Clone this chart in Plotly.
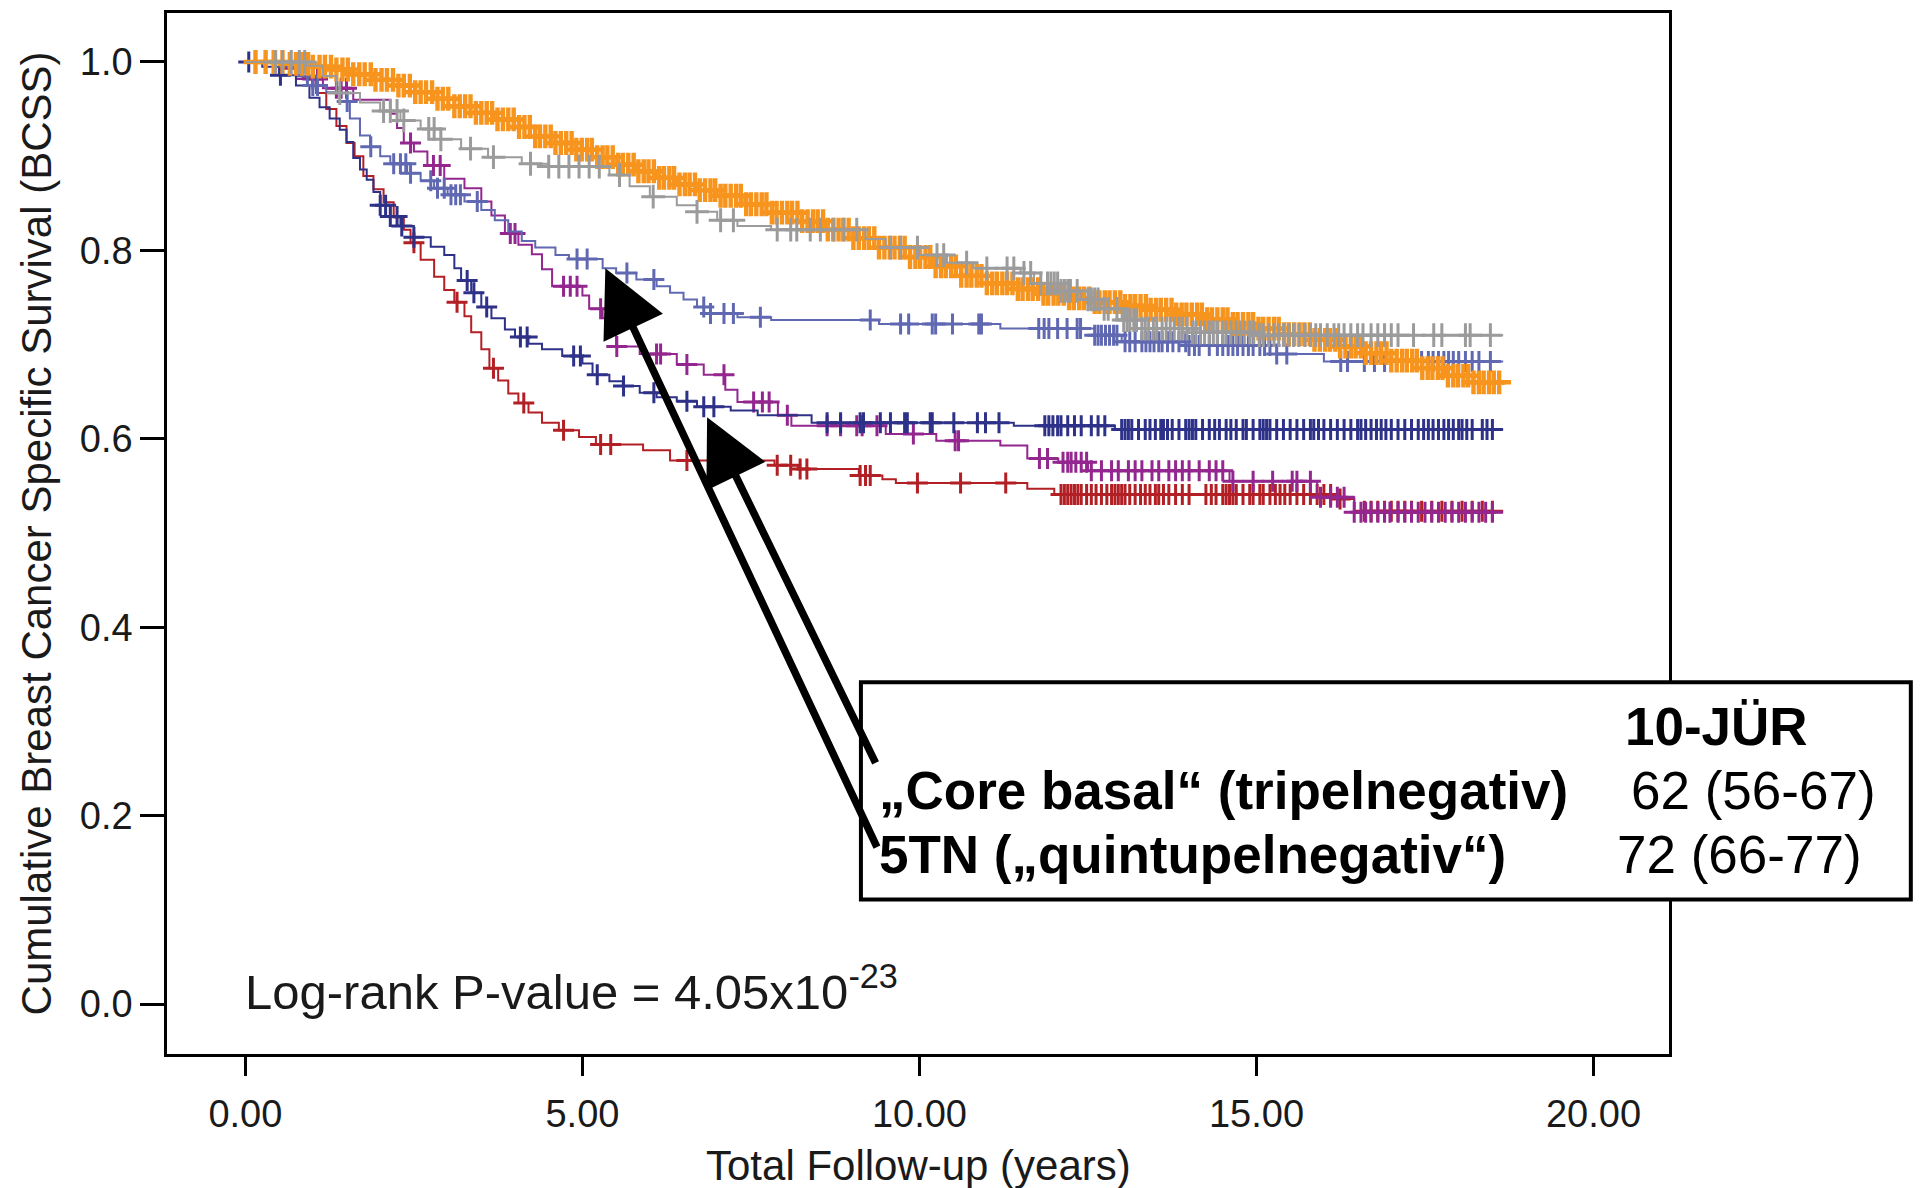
import numpy as np
import plotly.graph_objects as go

# ---------------- data ----------------
x_ticks = [0, 5, 10, 15, 20]
y_ticks = [0.0, 0.2, 0.4, 0.6, 0.8, 1.0]

# Kaplan-Meier step points (time in years, cumulative survival after the step)
orange_t = [0, 0.6, 1.0, 1.3, 1.6, 1.9, 2.2, 2.5, 2.8, 3.1, 3.4, 3.7, 4.0, 4.3, 4.6, 4.9, 5.2, 5.5,
            5.8, 6.1, 6.4, 6.7, 7.0, 7.4, 7.8, 8.2, 8.6, 9.0, 9.4, 9.8, 10.2, 10.6, 11.0, 11.4, 11.8,
            12.2, 12.6, 13.0, 13.4, 13.8, 14.2, 14.6, 15.0, 15.4, 15.8, 16.2, 16.6, 17.0, 17.4, 17.8,
            18.2, 18.66]
orange_s = [1.0, 0.998, 0.995, 0.992, 0.987, 0.981, 0.975, 0.968, 0.961, 0.953, 0.946, 0.939, 0.931,
            0.921, 0.914, 0.907, 0.899, 0.891, 0.884, 0.877, 0.870, 0.864, 0.858, 0.849, 0.840, 0.831,
            0.822, 0.813, 0.803, 0.793, 0.783, 0.773, 0.765, 0.759, 0.754, 0.749, 0.745, 0.741, 0.737,
            0.732, 0.727, 0.722, 0.717, 0.711, 0.705, 0.698, 0.691, 0.683, 0.675, 0.667, 0.660, 0.657]
orange_c = [0.15, 0.3, 0.42, 0.55, 0.66, 0.75, 0.84, 0.93, 1.0, 1.1, 1.18, 1.27, 1.35, 1.44, 1.52, 1.6,
            1.69, 1.77, 1.86, 1.93, 2.02, 2.1, 2.19, 2.27, 2.35, 2.44, 2.52, 2.6, 2.68, 2.77, 2.85, 2.93,
            3.01, 3.1, 3.18, 3.26, 3.34, 3.42, 3.5, 3.58, 3.66, 3.74, 3.82, 3.9, 3.98, 4.06, 4.14, 4.22,
            4.3, 4.37, 4.45, 4.53, 4.6, 4.68, 4.76, 4.84, 4.91, 4.99, 5.07, 5.14, 5.22, 5.3, 5.37, 5.45,
            5.53, 5.6, 5.68, 5.76, 5.83, 5.91, 5.98, 6.06, 6.14, 6.21, 6.29, 6.36, 6.44, 6.52, 6.59,
            6.67, 6.74, 6.82, 6.9, 6.97, 7.05, 7.12, 7.2, 7.28, 7.35, 7.43, 7.5, 7.58, 7.66, 7.73, 7.81,
            7.88, 7.96, 8.04, 8.11, 8.19, 8.26, 8.34, 8.42, 8.49, 8.57, 8.64, 8.72, 8.8, 8.87, 8.95,
            9.02, 9.1, 9.18, 9.25, 9.33, 9.4, 9.48, 9.56, 9.63, 9.71, 9.78, 9.86, 9.94, 10.01, 10.09,
            10.16, 10.24, 10.32, 10.39, 10.47, 10.54, 10.62, 10.7, 10.77, 10.85, 10.92, 11.0, 11.08,
            11.15, 11.23, 11.3, 11.38, 11.46, 11.53, 11.61, 11.68, 11.76, 11.84, 11.91, 11.99, 12.06,
            12.14, 12.22, 12.29, 12.37, 12.44, 12.52, 12.6, 12.67, 12.75, 12.82, 12.9, 12.98, 13.05,
            13.13, 13.2, 13.28, 13.36, 13.43, 13.51, 13.58, 13.66, 13.74, 13.81, 13.89, 13.96, 14.04,
            14.12, 14.19, 14.27, 14.34, 14.42, 14.5, 14.57, 14.65, 14.72, 14.8, 14.88, 14.95, 15.03,
            15.1, 15.18, 15.26, 15.33, 15.41, 15.48, 15.56, 15.64, 15.71, 15.79, 15.86, 15.94, 16.02,
            16.09, 16.17, 16.24, 16.32, 16.4, 16.47, 16.55, 16.62, 16.7, 16.78, 16.85, 16.93, 17.0,
            17.08, 17.16, 17.23, 17.31, 17.38, 17.46, 17.54, 17.61, 17.69, 17.76, 17.84, 17.92, 17.99,
            18.07, 18.14, 18.22, 18.3, 18.37, 18.45, 18.52, 18.6]

gray_t = [0, 0.9, 1.15, 1.35, 1.7, 2.0, 2.3, 2.6, 2.9, 3.2, 3.6, 4.1, 4.5, 5.4, 5.7, 6.0, 6.4, 6.7,
          7.0, 7.3, 7.8, 9.2, 9.5, 10.0, 10.4, 10.8, 11.5, 11.7, 12.1, 12.4, 12.7, 13.0, 13.3, 14.0,
          15.0, 18.66]
gray_s = [1.0, 0.996, 0.985, 0.967, 0.957, 0.948, 0.938, 0.929, 0.918, 0.908, 0.899, 0.892, 0.889,
          0.880, 0.868, 0.857, 0.848, 0.841, 0.832, 0.826, 0.822, 0.812, 0.803, 0.795, 0.787, 0.781,
          0.776, 0.765, 0.757, 0.748, 0.738, 0.726, 0.717, 0.713, 0.710, 0.710]
gray_c = [0.45, 0.55, 0.68, 0.8, 0.88, 1.4, 2.05, 2.15, 2.25, 2.35, 2.72, 2.8, 2.9, 3.34, 3.68, 4.23,
          4.5, 4.65, 4.8, 4.95, 5.1, 5.25, 5.55, 6.05, 6.7, 7.05, 7.24, 7.89, 8.09, 8.18, 8.38, 8.53,
          8.73, 8.88, 9.07, 9.57, 9.72, 9.97, 10.26, 10.36, 10.7, 11.0, 11.3, 11.4, 11.55, 11.65, 11.8,
          11.9, 11.95, 12.0, 12.05, 12.1, 12.15, 12.2, 12.24, 12.34, 12.5, 12.55, 12.6, 12.65, 12.74,
          12.8, 12.93, 13.03, 13.08, 13.12, 13.18, 13.22, 13.3, 13.35, 13.4, 13.47, 13.52, 13.6, 13.66,
          13.72, 13.78, 13.85, 13.9, 13.97, 14.05, 14.1, 14.17, 14.23, 14.3, 14.36, 14.42, 14.5, 14.55,
          14.62, 14.7, 14.76, 14.82, 14.9, 14.96, 15.04, 15.1, 15.18, 15.26, 15.33, 15.4, 15.48, 15.55,
          15.63, 15.72, 15.8, 15.88, 15.95, 16.05, 16.15, 16.22, 16.3, 16.4, 16.5, 16.58, 16.7, 16.8,
          16.9, 17.0, 17.1, 17.33, 17.63, 17.75, 18.1, 18.17, 18.47]

# 5TN ("quintupelnegativ")
ltblue_t = [0, 0.5, 0.8, 1.0, 1.2, 1.4, 1.55, 1.7, 1.85, 2.0, 2.15, 2.4, 2.6, 2.8, 3.0, 3.25, 3.5,
            3.7, 3.9, 4.1, 4.3, 4.6, 4.8, 5.3, 5.5, 5.8, 6.1, 6.3, 6.5, 6.7, 6.9, 7.3, 7.8, 9.4, 11.2,
            12.6, 13.0, 14.0, 15.3, 16.0, 18.66]
ltblue_s = [1.0, 0.995, 0.985, 0.975, 0.968, 0.958, 0.940, 0.922, 0.910, 0.900, 0.892, 0.882, 0.874,
            0.866, 0.859, 0.852, 0.843, 0.832, 0.820, 0.810, 0.803, 0.795, 0.791, 0.781, 0.776, 0.769,
            0.762, 0.755, 0.748, 0.740, 0.733, 0.729, 0.726, 0.722, 0.717, 0.710, 0.703, 0.699, 0.690,
            0.682, 0.682]
ltblue_c = [0.92, 1.0, 1.07, 1.51, 1.86, 2.2, 2.3, 2.38, 2.45, 2.75, 2.85, 2.95, 3.05, 3.12, 3.19, 3.44,
            4.92, 5.07, 5.66, 6.06, 6.8, 6.9, 7.1, 7.24, 7.64, 9.27, 9.72, 9.84, 10.19, 10.24, 10.49,
            10.88, 10.92, 11.77, 11.85, 11.92, 12.05, 12.19, 12.34, 12.39, 12.6, 12.65, 12.7, 12.76,
            12.82, 12.88, 12.93, 13.05, 13.12, 13.2, 13.3, 13.36, 13.42, 13.48, 13.55, 13.6, 13.68,
            13.76, 13.85, 13.95, 14.0, 14.08, 14.15, 14.3, 14.42, 14.5, 14.58, 14.65, 14.72, 14.8,
            14.88, 14.95, 15.05, 15.12, 15.2, 15.3, 15.45, 16.25, 16.35, 16.6, 16.75, 16.9, 17.3, 17.38,
            17.45, 17.55, 17.62, 17.7, 17.78, 17.85, 17.92, 18.0, 18.1, 18.2, 18.3, 18.47]

# "Core basal" (tripelnegativ)
navy_t = [0, 0.25, 0.5, 0.75, 0.95, 1.1, 1.25, 1.4, 1.5, 1.6, 1.7, 1.8, 1.9, 2.0, 2.15, 2.3, 2.5,
          2.75, 2.95, 3.1, 3.2, 3.35, 3.5, 3.65, 3.85, 4.0, 4.2, 4.4, 4.7, 5.0, 5.15, 5.4, 5.6, 5.85,
          6.1, 6.4, 6.7, 7.2, 7.6, 8.4, 11.4, 12.9, 18.66]
navy_s = [1.0, 0.995, 0.986, 0.975, 0.962, 0.952, 0.940, 0.928, 0.915, 0.898, 0.886, 0.875, 0.862,
          0.848, 0.836, 0.826, 0.814, 0.804, 0.795, 0.781, 0.768, 0.755, 0.740, 0.728, 0.716, 0.708,
          0.701, 0.695, 0.688, 0.680, 0.668, 0.661, 0.656, 0.649, 0.644, 0.640, 0.634, 0.630, 0.625,
          0.617, 0.614, 0.610, 0.610]
navy_c = [0.05, 0.52, 2.0, 2.08, 2.15, 2.25, 2.32, 2.5, 3.29, 3.39, 3.58, 4.08, 4.18, 4.87, 4.97, 5.22,
          5.61, 6.06, 6.55, 6.8, 6.95, 8.63, 8.83, 9.12, 9.17, 9.42, 9.57, 9.78, 9.82, 10.16, 10.19,
          10.51, 10.86, 10.98, 11.18, 11.86, 11.92, 11.98, 12.05, 12.1, 12.2, 12.3, 12.4, 12.55, 12.65,
          12.75, 13.0, 13.05, 13.1, 13.15, 13.25, 13.35, 13.42, 13.5, 13.58, 13.62, 13.68, 13.75,
          13.85, 13.95, 14.0, 14.05, 14.1, 14.2, 14.3, 14.38, 14.45, 14.55, 14.62, 14.7, 14.8, 14.85,
          14.95, 15.05, 15.1, 15.15, 15.2, 15.3, 15.4, 15.5, 15.6, 15.7, 15.8, 15.85, 15.92, 16.0,
          16.1, 16.2, 16.3, 16.4, 16.5, 16.55, 16.62, 16.7, 16.78, 16.85, 16.92, 17.0, 17.1, 17.2,
          17.3, 17.4, 17.48, 17.55, 17.62, 17.7, 17.78, 17.85, 17.92, 18.0, 18.05, 18.12, 18.2, 18.35,
          18.42, 18.5]

purple_t = [0, 0.5, 0.75, 1.15, 1.6, 2.15, 2.25, 2.35, 2.5, 2.7, 2.95, 3.25, 3.5, 3.65, 3.85, 4.05,
            4.25, 4.4, 4.55, 5.0, 5.1, 5.3, 5.4, 5.5, 5.85, 6.4, 6.8, 7.12, 7.3, 7.9, 8.1, 9.5, 10.25,
            11.2, 11.6, 12.06, 12.5, 14.6, 15.9, 16.45, 18.66]
purple_s = [1.0, 0.993, 0.982, 0.972, 0.960, 0.945, 0.930, 0.914, 0.905, 0.890, 0.876, 0.866, 0.852,
            0.837, 0.818, 0.806, 0.796, 0.780, 0.762, 0.752, 0.738, 0.728, 0.712, 0.698, 0.690, 0.679,
            0.668, 0.652, 0.639, 0.625, 0.614, 0.605, 0.598, 0.593, 0.579, 0.575, 0.566, 0.555, 0.538,
            0.522, 0.522]
purple_c = [1.0, 1.07, 1.35, 1.42, 1.5, 2.45, 2.79, 2.89, 3.93, 4.0, 4.72, 4.82, 4.92, 5.27, 5.51, 6.1,
            6.16, 6.55, 7.1, 7.54, 7.67, 7.77, 8.04, 8.63, 8.83, 9.07, 9.15, 9.37, 9.91, 10.53, 10.58,
            11.78, 11.9, 12.13, 12.2, 12.25, 12.32, 12.4, 12.48, 12.55, 12.7, 12.85, 12.95, 13.1, 13.2,
            13.3, 13.45, 13.55, 13.7, 13.8, 13.9, 14.0, 14.15, 14.3, 14.4, 14.5, 14.65, 14.95, 15.24,
            15.53, 15.6, 15.8, 15.95, 16.1, 16.2, 16.3, 16.45, 16.55, 16.62, 16.7, 16.8, 16.9, 16.98,
            17.1, 17.2, 17.3, 17.4, 17.5, 17.6, 17.7, 17.8, 17.9, 18.0, 18.1, 18.2, 18.3, 18.4, 18.5]

red_t = [0, 0.6, 0.85, 1.05, 1.2, 1.35, 1.5, 1.62, 1.75, 1.9, 2.05, 2.2, 2.35, 2.45, 2.6, 2.8, 2.95,
         3.1, 3.25, 3.35, 3.5, 3.62, 3.75, 3.9, 4.05, 4.2, 4.4, 4.65, 4.95, 5.2, 5.9, 6.3, 7.85, 8.2,
         9.1, 9.45, 9.65, 11.6, 12.0, 16.2, 16.45, 18.66]
red_s = [1.0, 0.993, 0.984, 0.967, 0.950, 0.932, 0.914, 0.900, 0.879, 0.865, 0.851, 0.835, 0.822,
         0.808, 0.790, 0.772, 0.758, 0.745, 0.730, 0.713, 0.695, 0.675, 0.662, 0.648, 0.638, 0.628,
         0.617, 0.609, 0.602, 0.594, 0.588, 0.577, 0.572, 0.568, 0.561, 0.557, 0.553, 0.547, 0.541,
         0.536, 0.523, 0.523]
red_c = [1.0, 2.5, 3.14, 3.68, 4.13, 4.72, 5.27, 5.42, 6.55, 7.89, 8.09, 8.23, 8.33, 9.12, 9.2, 9.27,
         9.97, 10.61, 11.28, 12.1, 12.15, 12.2, 12.25, 12.3, 12.35, 12.4, 12.48, 12.55, 12.62, 12.7,
         12.78, 12.85, 12.9, 12.95, 13.0, 13.05, 13.12, 13.2, 13.28, 13.35, 13.42, 13.5, 13.55, 13.62,
         13.7, 13.8, 13.9, 14.0, 14.25, 14.33, 14.4, 14.5, 14.55, 14.6, 14.65, 14.7, 14.8, 14.9, 14.95,
         15.05, 15.1, 15.2, 15.28, 15.35, 15.42, 15.5, 15.6, 15.7, 15.8, 15.9, 16.0, 16.1, 16.24, 16.6,
         16.7, 16.8, 16.9, 17.0, 17.1, 17.2, 17.3, 17.45, 17.6, 17.75, 17.9, 18.05, 18.2, 18.35, 18.5]

# (name, step times, survival, censor times, colour, censor-mark stroke width, mark size)
series = [
    ("red", red_t, red_s, red_c, "#B21F24", 3.0, 15),
    ("purple", purple_t, purple_s, purple_c, "#93278F", 3.0, 15),
    ("navy", navy_t, navy_s, navy_c, "#2E3188", 3.0, 15),
    ("ltblue", ltblue_t, ltblue_s, ltblue_c, "#6068B2", 3.0, 15),
    ("orange", orange_t, orange_s, orange_c, "#F7941D", 4.4, 17),
    ("gray", gray_t, gray_s, gray_c, "#9B9B9B", 3.0, 17),
]


def surv_at(t_steps, s_steps, times):
    idx = np.searchsorted(np.asarray(t_steps), np.asarray(times), side="right") - 1
    return np.asarray(s_steps)[np.clip(idx, 0, None)]


FONT = "Arial, Liberation Sans, sans-serif"
fig = go.Figure()
for name, t, s, c, col, mw, ms in series:
    fig.add_trace(go.Scatter(x=t, y=s, mode="lines", line=dict(color=col, width=2, shape="hv"),
                             hoverinfo="skip", showlegend=False, name=name))
    fig.add_trace(go.Scatter(x=c, y=surv_at(t, s, c), mode="markers",
                             marker=dict(symbol="cross-thin", size=ms, color=col,
                                         line=dict(color=col, width=mw)),
                             hoverinfo="skip", showlegend=False, name=name + " censored"))

axis_common = dict(showline=True, linecolor="black", linewidth=2.5, mirror=True,
                   showgrid=False, zeroline=False, ticks="outside", tickwidth=2.5,
                   tickcolor="black", tickfont=dict(family=FONT, size=38, color="#1a1a1a"))
fig.update_xaxes(range=[-1.163, 21.12], tickvals=x_ticks, ticktext=[f"{v:.2f}" for v in x_ticks],
                 ticklen=19, ticklabelstandoff=6, **axis_common)
fig.update_yaxes(range=[-0.053, 1.052], tickvals=y_ticks, ticktext=[f"{v:.1f}" for v in y_ticks],
                 ticklen=24, **axis_common)

BOX_FONT = dict(family=FONT, size=53, color="black")
annotations = [
    dict(text="Total Follow-up (years)", xref="paper", yref="paper", x=0.5, y=-0.107,
         xanchor="center", yanchor="middle", showarrow=False,
         font=dict(family=FONT, size=42, color="#1a1a1a")),
    dict(text="Cumulative Breast Cancer Specific Survival (BCSS)", xref="paper", yref="paper",
         x=-0.0866, y=0.5, xanchor="center", yanchor="middle", textangle=-90, showarrow=False,
         font=dict(family=FONT, size=42, color="#1a1a1a")),
    dict(text="Log-rank P-value = 4.05x10<sup>-23</sup>", xref="paper", yref="paper",
         x=0.0506, y=0.0632, xanchor="left", yanchor="middle", showarrow=False,
         font=dict(family=FONT, size=49, color="#1a1a1a")),
    # arrows
    dict(x=5.34, y=0.781, ax=9.38, ay=0.165, xref="x", yref="y", axref="x", ayref="y", text="",
         showarrow=True, arrowhead=2, arrowsize=1.75, arrowwidth=7.5, arrowcolor="black", standoff=0),
    dict(x=6.85, y=0.623, ax=9.36, ay=0.2545, xref="x", yref="y", axref="x", ayref="y", text="",
         showarrow=True, arrowhead=2, arrowsize=1.75, arrowwidth=7.5, arrowcolor="black", standoff=0),
    # box text
    dict(text="<b>10-JÜR</b>", xref="paper", yref="paper", x=0.9694, y=0.3142, xanchor="left",
         yanchor="middle", showarrow=False, font=BOX_FONT),
    dict(text="<b>„Core basal“ (tripelnegativ)</b>", xref="paper", yref="paper", x=0.473, y=0.2529,
         xanchor="left", yanchor="middle", showarrow=False, font=BOX_FONT),
    dict(text="62 (56-67)", xref="paper", yref="paper", x=0.9734, y=0.2529, xanchor="left",
         yanchor="middle", showarrow=False, font=BOX_FONT),
    dict(text="<b>5TN („quintupelnegativ“)</b>", xref="paper", yref="paper", x=0.473, y=0.1916,
         xanchor="left", yanchor="middle", showarrow=False, font=BOX_FONT),
    dict(text="72 (66-77)", xref="paper", yref="paper", x=0.964, y=0.1916, xanchor="left",
         yanchor="middle", showarrow=False, font=BOX_FONT),
]

shapes = [dict(type="rect", xref="paper", yref="paper", x0=0.462, x1=1.161, y0=0.1485, y1=0.357,
               line=dict(color="black", width=4), fillcolor="white", layer="above")]

# the page body adds an 8px margin, so the figure is 8px smaller than the window on each axis
fig.update_layout(width=1913, height=1180, margin=dict(l=159, r=252, t=2, b=134),
                  paper_bgcolor="white", plot_bgcolor="white", annotations=annotations,
                  shapes=shapes, showlegend=False)

fig.write_html("out.html")
